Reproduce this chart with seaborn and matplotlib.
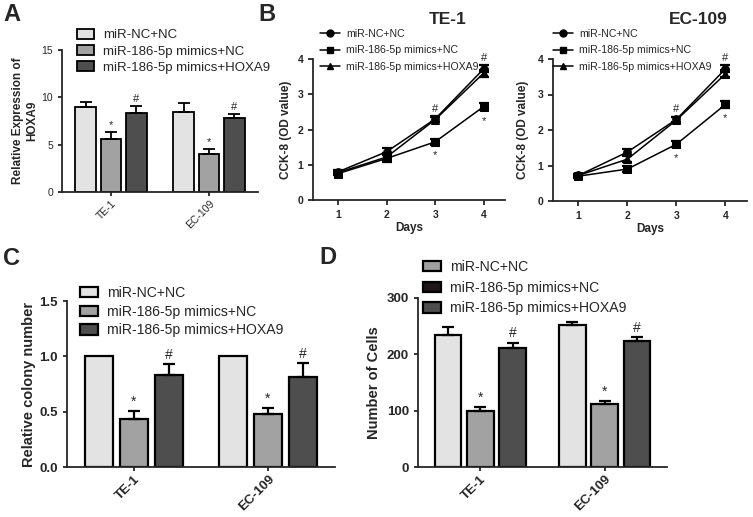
# miR-186-5p / HOXA9 の4パネル図 (A: 発現量, B: CCK-8, C: コロニー, D: 細胞数)

import pandas as pd
import seaborn as sns
import matplotlib.pyplot as plt
from matplotlib.patches import Patch
from matplotlib.lines import Line2D

# ---- データ ----
groups = ['miR-NC+NC', 'miR-186-5p mimics+NC', 'miR-186-5p mimics+HOXA9']
cells = ['TE-1', 'EC-109']

# A: HOXA9 相対発現
expr_te1 = [8.95, 5.6, 8.3]
expr_te1_sd = [0.6, 0.75, 0.8]
expr_ec109 = [8.4, 4.05, 7.8]
expr_ec109_sd = [1.0, 0.45, 0.4]

# B: CCK-8 (OD値)
days = [1, 2, 3, 4]
cck_te1_nc = [0.80, 1.37, 2.30, 3.72]
cck_te1_mim = [0.75, 1.18, 1.65, 2.65]
cck_te1_hox = [0.78, 1.22, 2.28, 3.60]
cck_te1_sd = [0.05, 0.10, 0.08, 0.10]
cck_ec109_nc = [0.72, 1.38, 2.30, 3.72]
cck_ec109_mim = [0.70, 0.90, 1.60, 2.72]
cck_ec109_hox = [0.72, 1.18, 2.28, 3.58]
cck_ec109_sd = [0.04, 0.09, 0.08, 0.10]

# C: 相対コロニー数
colony_te1 = [1.0, 0.43, 0.83]
colony_te1_sd = [0.0, 0.08, 0.10]
colony_ec109 = [1.0, 0.475, 0.81]
colony_ec109_sd = [0.0, 0.06, 0.13]

# D: 細胞数
count_te1 = [235, 100, 211]
count_te1_sd = [13, 6, 10]
count_ec109 = [252, 111, 223]
count_ec109_sd = [5, 6, 8]

bar_colors = ['#e3e3e3', '#a2a2a2', '#4e4e4e']
d_legend_colors = ['#a0a0a0', '#1c1616', '#4e4e4e']
marks = ['', '*', '#']

sns.set_style("ticks")
plt.rcParams['font.family'] = ['Liberation Sans', 'DejaVu Sans']
plt.rcParams['axes.linewidth'] = 1.3

W, H = 753, 517
fig = plt.figure(figsize=(W / 100, H / 100), dpi=100)


def px_axes(left, right, top, bottom):
    return fig.add_axes([left / W, 1 - bottom / H, (right - left) / W, (bottom - top) / H])


def bar_panel(ax, te1, te1_sd, ec, ec_sd, ylim, yticks, lw, cap, mark_size, legend_colors,
              legend_xy, legend_size, legend_space, tick_size, tick_bold):
    df = pd.DataFrame({
        'cell': [c for c in cells for _ in groups],
        'group': groups * 2,
        'value': te1 + ec,
        'sd': te1_sd + ec_sd,
    })
    sns.barplot(data=df, x='cell', y='value', hue='group', order=cells, hue_order=groups,
                palette=bar_colors, edgecolor='black', linewidth=lw, width=0.78, gap=0.18,
                errorbar=None, legend=False, saturation=1, ax=ax)
    bar_sets = list(ax.containers)
    for gi, cont in enumerate(bar_sets):
        for bar in cont:
            x = bar.get_x() + bar.get_width() / 2
            h = bar.get_height()
            row = df[(df['cell'] == cells[int(round(x))]) & (df['group'] == groups[gi])]
            sd = float(row['sd'].iloc[0])
            if sd > 0:
                ax.errorbar(x, h, yerr=[[0], [sd]], fmt='none', ecolor='black',
                            elinewidth=lw, capsize=cap, capthick=lw, zorder=1)
            if marks[gi]:
                ax.annotate(marks[gi], (x, h + sd), xytext=(0, 1.5), textcoords='offset points',
                            ha='center', va='bottom', fontsize=mark_size)
    ax.set_ylim(*ylim)
    ax.set_yticks(yticks)
    ax.set_xlim(-0.5, 1.5)
    ax.set_xlabel('')
    sns.despine(ax=ax)
    ax.tick_params(width=1.3, length=3, labelsize=tick_size)
    ax.tick_params(axis='x', pad=1.5)
    weight = 'bold' if tick_bold else 'normal'
    for lab in ax.get_yticklabels():
        lab.set_fontweight(weight)
    ax.set_xticks([0, 1])
    ax.set_xticklabels(cells, rotation=45, ha='right', rotation_mode='anchor',
                       fontweight=weight, fontsize=tick_size)
    handles = [Patch(facecolor=c, edgecolor='black', linewidth=lw) for c in legend_colors]
    ax.legend(handles, groups, loc='upper left', bbox_to_anchor=(legend_xy[0] / W, 1 - legend_xy[1] / H),
              bbox_transform=fig.transFigure, frameon=False, fontsize=legend_size,
              borderpad=0, borderaxespad=0, handlelength=1.3, handleheight=0.75,
              handletextpad=0.65, labelspacing=legend_space)


def line_panel(ax, nc, mim, hox, sd, title, title_x, ylab_x, legend_x):
    df = pd.DataFrame({
        'Day': days * 3,
        'OD': nc + mim + hox,
        'Group': [g for g in groups for _ in days],
    })
    sns.lineplot(data=df, x='Day', y='OD', style='Group', style_order=groups,
                 markers=['o', 's', '^'], dashes=False, color='black', markersize=5.5,
                 linewidth=1.1, markeredgecolor='black', errorbar=None, legend=False, ax=ax)
    for vals in (nc, mim, hox):
        ax.errorbar(days, vals, yerr=sd, fmt='none', ecolor='black', elinewidth=1.6,
                    capsize=3.5, capthick=1.6)
    for d in (2, 3):
        top = max(nc[d], hox[d]) + sd[d]
        ax.annotate('#', (days[d], top), xytext=(0, 1.5), textcoords='offset points',
                    ha='center', va='bottom', fontsize=8)
        ax.annotate('*', (days[d], mim[d] - sd[d]), xytext=(0, -4), textcoords='offset points',
                    ha='center', va='top', fontsize=8)
    ax.set_xlim(0.48, 4.44)
    ax.set_ylim(0, 4)
    ax.set_xticks(days)
    ax.set_yticks([0, 1, 2, 3, 4])
    sns.despine(ax=ax)
    ax.tick_params(width=1.3, length=3.5, labelsize=7.5)
    for lab in ax.get_xticklabels() + ax.get_yticklabels():
        lab.set_fontweight('bold')
    ax.set_xlabel('Days', fontsize=8.5, fontweight='bold')
    ax.xaxis.set_label_coords(0.5, -0.155)
    ax.set_ylabel('CCK-8 (OD value)', fontsize=8.5, fontweight='bold')
    ax.yaxis.set_label_coords(ylab_x, 0.5)
    ax.text(title_x, 1.28, title, transform=ax.transAxes, ha='center', va='center',
            fontsize=12.5, fontweight='bold')
    handles = [Line2D([], [], color='black', marker=m, markersize=5, linewidth=1.1)
               for m in ['o', 's', '^']]
    ax.legend(handles, groups, loc='upper left', bbox_to_anchor=(legend_x / W, 1 - 29 / H),
              bbox_transform=fig.transFigure, frameon=False, fontsize=7.6, borderpad=0,
              borderaxespad=0, handlelength=1.9, handletextpad=0.6, labelspacing=0.6)


# A
axA = px_axes(62, 258, 50, 192)
bar_panel(axA, expr_te1, expr_te1_sd, expr_ec109, expr_ec109_sd, (0, 15), [0, 5, 10, 15],
          1.3, 4.2, 8, bar_colors, (77, 29), 9.5, 0.28, 7.5, False)
axA.set_ylabel('Relative Expression of\nHOXA9', fontsize=8.5, fontweight='bold')
axA.yaxis.set_label_coords(-0.122, 0.5)

# B
axB1 = px_axes(313, 505, 59, 200)
line_panel(axB1, cck_te1_nc, cck_te1_mim, cck_te1_hox, cck_te1_sd, 'TE-1', 0.70, -0.11, 320)
axB2 = px_axes(553, 747, 59, 201)
line_panel(axB2, cck_ec109_nc, cck_ec109_mim, cck_ec109_hox, cck_ec109_sd, 'EC-109', 0.75, -0.124, 553)

# C
axC = px_axes(67, 335, 301, 467)
bar_panel(axC, colony_te1, colony_te1_sd, colony_ec109, colony_ec109_sd, (0, 1.5),
          [0.0, 0.5, 1.0, 1.5], 1.6, 4.5, 10, bar_colors, (80, 286), 10.1, 0.33, 9.5, True)
axC.set_yticklabels(['0.0', '0.5', '1.0', '1.5'], fontweight='bold')
axC.set_ylabel('Relative colony number', fontsize=10.5, fontweight='bold')
axC.yaxis.set_label_coords(-0.116, 0.5)

# D
axD = px_axes(418, 667, 298, 467)
bar_panel(axD, count_te1, count_te1_sd, count_ec109, count_ec109_sd, (0, 300),
          [0, 100, 200, 300], 1.6, 4.5, 10, d_legend_colors, (423, 260), 10.1, 0.48, 9.5, True)
axD.set_ylabel('Number of Cells', fontsize=10.5, fontweight='bold')
axD.yaxis.set_label_coords(-0.149, 0.5)

# パネル記号
for letter, x, y in [('A', 3, 3), ('B', 258, 3), ('C', 3, 247), ('D', 319, 246)]:
    fig.text(x / W, 1 - y / H, letter, fontsize=17, fontweight='bold', va='top', ha='left')

fig.savefig('out.png', dpi=100)
